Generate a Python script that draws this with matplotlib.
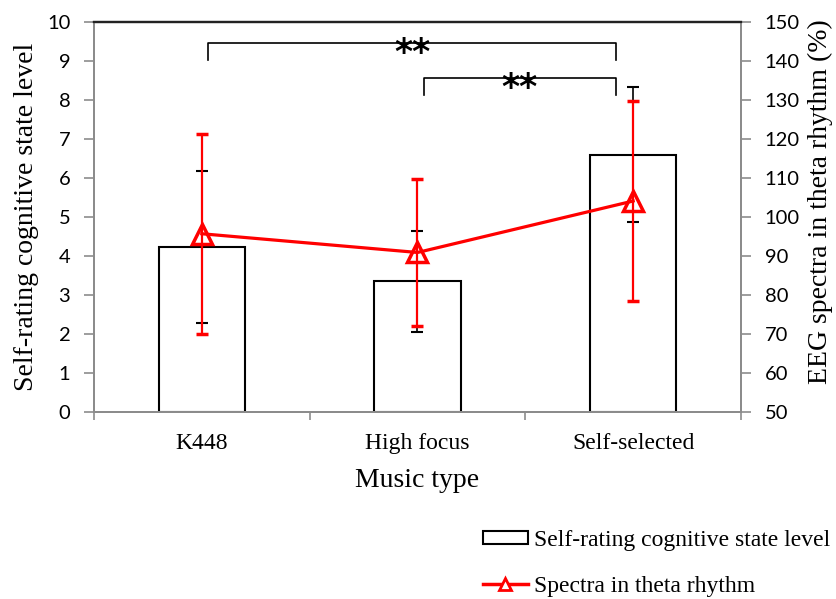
import numpy as np
import matplotlib
matplotlib.use("Agg")
import matplotlib.pyplot as plt
from matplotlib.patches import Patch
from matplotlib.lines import Line2D

plt.rcParams['font.family'] = ['Liberation Serif', 'DejaVu Serif']

# data
categories = ["K448", "High focus", "Self-selected"]
rating_mean = [4.23, 3.35, 6.6]
rating_sd = [1.95, 1.29, 1.73]
theta_mean = [95.7, 90.9, 104.1]
theta_sd = [25.7, 18.9, 25.6]
# significance brackets: (from, to, height on left axis, label)
brackets = [(0, 2, 9.46, "**"), (1, 2, 8.57, "**")]

axis_grey = "#8c8c8c"

fig = plt.figure(figsize=(8.36, 5.99), dpi=100)
ax = fig.add_axes([0.1124, 0.3122, 0.774, 0.6511])

x = np.arange(len(categories))
ax.bar(x, rating_mean, width=0.4, color="white", edgecolor="black", lw=1.5, zorder=2)
ax.errorbar(x, rating_mean, yerr=rating_sd, fmt="none", ecolor="black",
            elinewidth=1.2, capsize=4, capthick=1.5, zorder=3)

ax.set_xlim(-0.5, 2.5)
ax.set_ylim(0, 10)
ax.set_yticks(np.arange(0, 11, 1))
ax.set_xticks([-0.5, 0.5, 1.5, 2.5])
ax.set_xticklabels([])
ax.set_xticks(x, minor=True)
ax.set_xticklabels(categories, minor=True, fontsize=17)
ax.tick_params(axis="x", which="minor", length=0, pad=15)
ax.tick_params(axis="x", which="major", length=6, color=axis_grey, width=1.2)
ax.tick_params(axis="y", length=7, color=axis_grey, width=1.2, pad=10)
for lab in ax.get_yticklabels():
    lab.set_family("Lato")
    lab.set_fontsize(14.5)

for s in ["left", "right", "bottom"]:
    ax.spines[s].set_color(axis_grey)
    ax.spines[s].set_linewidth(1.4)
ax.spines["top"].set_color("#222222")
ax.spines["top"].set_linewidth(1.6)

ax.set_xlabel("Music type", fontsize=20, labelpad=10)
ax.set_ylabel("Self-rating cognitive state level", fontsize=20, labelpad=6)

# brackets with stars
for i, j, h, txt in brackets:
    xl, xr = i + 0.03, j - 0.08
    ax.plot([xl, xl, xr, xr], [h - 0.43, h, h, h - 0.43], color="black", lw=1.2, zorder=4)
    ax.annotate(txt, xy=((xl + xr) / 2, h), xytext=(0, -14.5), textcoords="offset points",
                ha="center", va="baseline", fontsize=25, fontweight="bold",
                family="DejaVu Sans", zorder=5)

ax2 = ax.twinx()
ax2.errorbar(x, theta_mean, yerr=theta_sd, color="red", lw=2.3, marker="^", ms=15,
             mfc="none", mec="red", mew=2.5, ecolor="red", elinewidth=1.6,
             capsize=4, capthick=1.6)
ax2.set_ylim(50, 150)
ax2.set_yticks(np.arange(50, 151, 10))
ax2.tick_params(axis="y", length=7, color=axis_grey, width=1.2, pad=10)
for lab in ax2.get_yticklabels():
    lab.set_family("Lato")
    lab.set_fontsize(14.5)
for s in ["left", "right", "bottom"]:
    ax2.spines[s].set_color(axis_grey)
    ax2.spines[s].set_linewidth(1.4)
ax2.spines["top"].set_color("#222222")
ax2.spines["top"].set_linewidth(1.6)
ax2.set_ylabel("EEG spectra in theta rhythm (%)", fontsize=20, rotation=90)
ax2.yaxis.set_label_coords(1.104, 0.54)

handles = [
    Patch(facecolor="white", edgecolor="black", lw=1.5),
    Line2D([], [], color="red", lw=2.5, marker="^", ms=9, mfc="white", mec="red", mew=2),
]
labels = ["Self-rating cognitive state level", "Spectra in theta rhythm"]
fig.legend(handles, labels, loc="upper left", bbox_to_anchor=(483 / 836, 1 - 530 / 599),
           frameon=False, prop={"family": "Liberation Serif", "size": 17},
           handlelength=1.9, handleheight=0.45, handletextpad=0.25,
           labelspacing=1.05, borderpad=0, borderaxespad=0)

fig.savefig("out.png", dpi=100)
